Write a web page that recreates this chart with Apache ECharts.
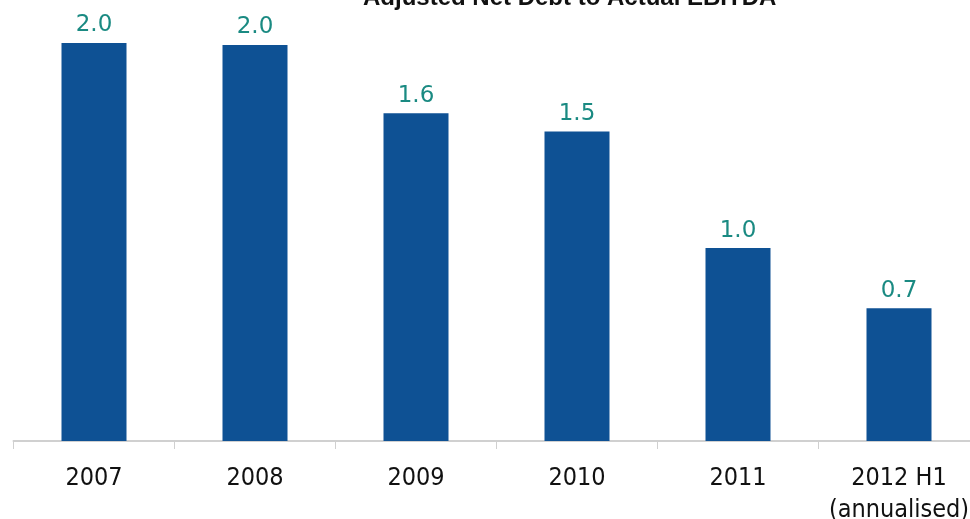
<!DOCTYPE html>
<html>
<head>
<meta charset="utf-8">
<title>Adjusted Net Debt to Actual EBITDA</title>
<script src="https://cdn.jsdelivr.net/npm/echarts@6/dist/echarts.min.js"></script>
<style>
  html, body { margin: 0; padding: 0; background: #ffffff; }
  #chart { width: 970px; height: 519px; }
</style>
</head>
<body>
<div id="chart"></div>
<script>
// Leverage ratio by period
const periods = ['2007', '2008', '2009', '2010', '2011', '2012 H1\n(annualised)'];
const leverage = [1.98, 1.97, 1.63, 1.54, 0.96, 0.66];
const chartTitle = 'Adjusted Net Debt to Actual EBITDA';

const chart = echarts.init(document.getElementById('chart'), null, { renderer: 'canvas' });

chart.setOption({
  animation: false,
  backgroundColor: '#ffffff',
  title: {
    text: chartTitle,
    left: 358,
    top: -19,
    textStyle: {
      fontFamily: 'Liberation Sans, Arial, sans-serif',
      fontWeight: 'bold',
      fontSize: 24,
      color: '#111111'
    }
  },
  grid: {
    left: 13.5,
    top: 39,
    width: 966,
    height: 402,
    containLabel: false,
    outerBoundsMode: 'none'
  },
  xAxis: {
    type: 'category',
    data: periods,
    axisLine: { show: true, lineStyle: { color: '#d0d0d0', width: 2 } },
    axisTick: { show: true, length: 8, lineStyle: { color: '#d0d0d0', width: 1 } },
    axisLabel: {
      interval: 0,
      margin: 21,
      fontFamily: 'DejaVu Sans Condensed, DejaVu Sans, sans-serif',
      fontSize: 25,
      lineHeight: 32,
      color: '#111111'
    }
  },
  yAxis: {
    type: 'value',
    min: 0,
    max: 2,
    show: false,
    splitLine: { show: false }
  },
  series: [{
    type: 'bar',
    data: leverage,
    barWidth: 65,
    itemStyle: { color: '#0e5194' },
    label: {
      show: true,
      position: 'top',
      distance: 6,
      fontFamily: 'DejaVu Sans, sans-serif',
      fontSize: 23,
      color: '#1a8a82',
      formatter: p => p.value.toFixed(1)
    }
  }]
});
</script>
</body>
</html>
